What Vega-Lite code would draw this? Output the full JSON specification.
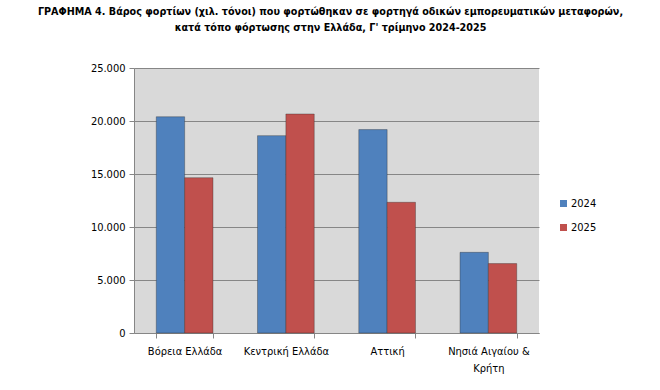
{
  "$schema": "https://vega.github.io/schema/vega-lite/v6.json",
  "autosize": {"type": "none"},
  "width": 405,
  "height": 265,
  "padding": {"left": 134, "top": 68, "right": 121, "bottom": 57},
  "background": "white",
  "title": {
    "text": ["ΓΡΑΦΗΜΑ 4. Βάρος φορτίων (χιλ. τόνοι) που φορτώθηκαν σε φορτηγά οδικών εμπορευματικών μεταφορών,", "κατά τόπο φόρτωσης στην Ελλάδα, Γ' τρίμηνο 2024-2025"],
    "font": "DejaVu Sans Condensed",
    "fontSize": 10.7,
    "fontWeight": "bold",
    "color": "#000000",
    "anchor": "middle",
    "offset": 28,
    "lineHeight": 16,
    "dx": -6
  },
  "data": {
    "values": [
      {"region": "Βόρεια Ελλάδα", "year": "2024", "value": 20400},
      {"region": "Βόρεια Ελλάδα", "year": "2025", "value": 14650},
      {"region": "Κεντρική Ελλάδα", "year": "2024", "value": 18620},
      {"region": "Κεντρική Ελλάδα", "year": "2025", "value": 20660},
      {"region": "Αττική", "year": "2024", "value": 19190},
      {"region": "Αττική", "year": "2025", "value": 12330},
      {"region": "Νησιά Αιγαίου & Κρήτη", "year": "2024", "value": 7610},
      {"region": "Νησιά Αιγαίου & Κρήτη", "year": "2025", "value": 6550}
    ]
  },
  "mark": {"type": "bar", "stroke": "#2b2b2b", "strokeWidth": 0.6, "strokeOpacity": 0.6},
  "encoding": {
    "x": {
      "field": "region",
      "type": "nominal",
      "sort": null,
      "title": null,
      "scale": {"paddingInner": 0.44, "paddingOuter": 0.22},
      "axis": {
        "labelAngle": 0,
        "tickBand": "extent",
        "labelExpr": "datum.label == 'Νησιά Αιγαίου & Κρήτη' ? ['Νησιά Αιγαίου &', 'Κρήτη'] : datum.label",
        "labelPadding": 7,
        "tickSize": 5,
        "domainColor": "#868686",
        "tickColor": "#868686",
        "labelLineHeight": 17
      }
    },
    "xOffset": {"field": "year", "type": "nominal", "scale": {"paddingInner": 0, "paddingOuter": 0}},
    "y": {
      "field": "value",
      "type": "quantitative",
      "title": null,
      "scale": {"domain": [0, 25000]},
      "axis": {
        "values": [0, 5000, 10000, 15000, 20000, 25000],
        "format": ",.0f",
        "grid": true,
        "gridColor": "#868686",
        "gridWidth": 1,
        "domainColor": "#868686",
        "tickColor": "#868686",
        "tickSize": 5,
        "labelPadding": 4
      }
    },
    "color": {
      "field": "year",
      "type": "nominal",
      "scale": {"domain": ["2024", "2025"], "range": ["#4f81bd", "#c0504d"]},
      "legend": {
        "title": null,
        "orient": "none",
        "legendX": 424,
        "legendY": 130,
        "symbolType": "square",
        "symbolSize": 49,
        "symbolStrokeWidth": 0,
        "labelOffset": 2,
        "rowPadding": 12,
        "labelFontSize": 11,
        "labelColor": "#000000",
        "labelFont": "DejaVu Sans Condensed"
      }
    }
  },
  "config": {
    "locale": {"number": {"decimal": ",", "thousands": ".", "grouping": [3], "currency": ["", "€"]}},
    "view": {"fill": "#d9d9d9", "stroke": null},
    "axis": {
      "labelFont": "DejaVu Sans Condensed",
      "labelFontSize": 11,
      "labelColor": "#000000",
      "domainWidth": 1,
      "tickWidth": 1
    }
  }
}
